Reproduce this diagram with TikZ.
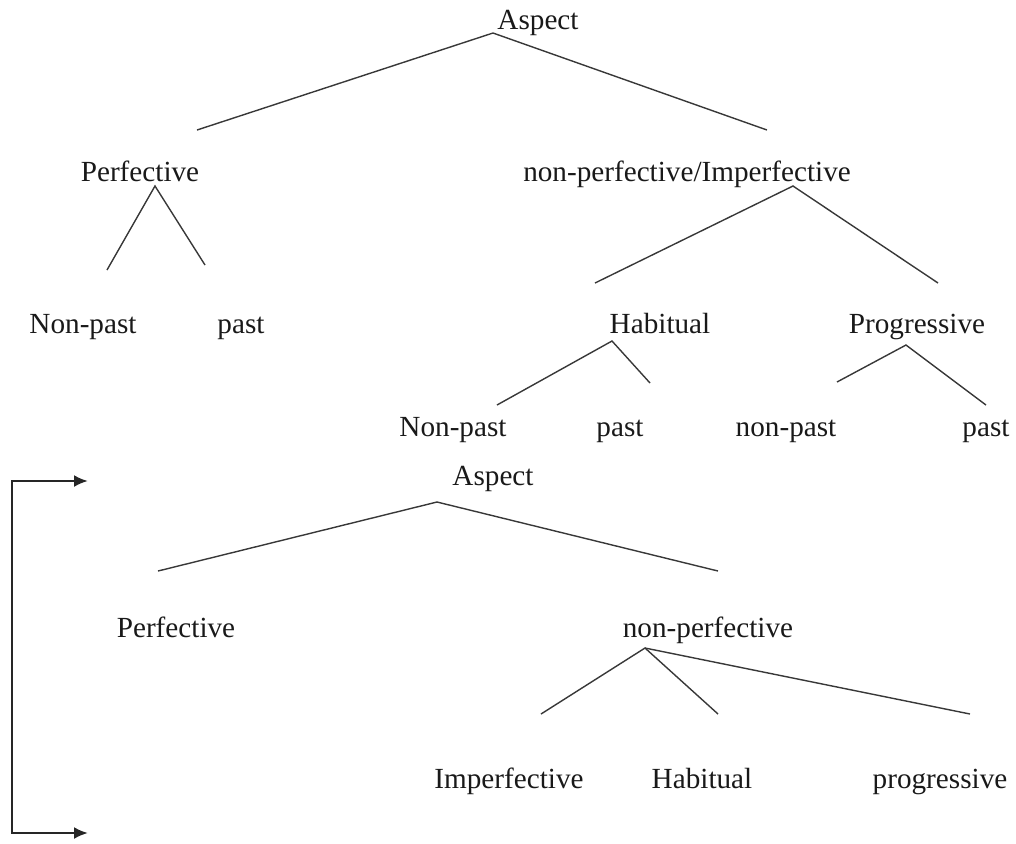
\documentclass[tikz,border=0pt]{standalone}
\usepackage{fontspec}
\setmainfont{Liberation Serif}
\usetikzlibrary{arrows.meta}
\begin{document}
\begin{tikzpicture}[x=0.5pt,y=-0.5pt,
  lbl/.style={inner sep=0pt,anchor=base,font=\fontsize{14.6}{16}\selectfont,text=black!90},
  branch/.style={draw=black!78,line width=0.7pt},
  bracket/.style={draw=black!85,line width=1.2pt,-{Latex[length=7pt,width=6pt]}}]
\useasboundingbox (0,0) rectangle (1016,843);

% ---------- first tree ----------
\node[lbl] (asp1) at (538,29) {Aspect};
\node[lbl] (perf1) at (140,181) {Perfective};
\node[lbl] (nonp1) at (687,181) {non-perfective/Imperfective};
\node[lbl] (np1) at (83,333) {Non-past};
\node[lbl] (p1) at (241,333) {past};
\node[lbl] (hab1) at (660,333) {Habitual};
\node[lbl] (prog1) at (917,333) {Progressive};
\node[lbl] (np2) at (453,436) {Non-past};
\node[lbl] (p2) at (620,436) {past};
\node[lbl] (np3) at (786,436) {non-past};
\node[lbl] (p3) at (986,436) {past};

\coordinate (a1) at (493,33);
\coordinate (a1l) at (197,130);
\coordinate (a1r) at (767,130);
\coordinate (b1) at (155,186);
\coordinate (b1l) at (107,270);
\coordinate (b1r) at (205,265);
\coordinate (c1) at (793,186);
\coordinate (c1l) at (595,283);
\coordinate (c1r) at (938,283);
\coordinate (d1) at (612,341);
\coordinate (d1l) at (497,405);
\coordinate (d1r) at (650,383);
\coordinate (e1) at (906,345);
\coordinate (e1l) at (837,382);
\coordinate (e1r) at (986,405);

\draw[branch] (a1l) -- (a1) -- (a1r);
\draw[branch] (b1l) -- (b1) -- (b1r);
\draw[branch] (c1l) -- (c1) -- (c1r);
\draw[branch] (d1l) -- (d1) -- (d1r);
\draw[branch] (e1l) -- (e1) -- (e1r);

% ---------- second tree ----------
\node[lbl] (asp2) at (493,485) {Aspect};
\node[lbl] (perf2) at (176,637) {Perfective};
\node[lbl] (nonp2) at (708,637) {non-perfective};
\node[lbl] (imp2) at (509,788) {Imperfective};
\node[lbl] (hab2) at (702,788) {Habitual};
\node[lbl] (prog2) at (940,788) {progressive};

\coordinate (a2) at (437,502);
\coordinate (a2l) at (158,571);
\coordinate (a2r) at (718,571);
\coordinate (b2) at (645,648);
\coordinate (b2l) at (541,714);
\coordinate (b2m) at (718,714);
\coordinate (b2r) at (970,714);

\draw[branch] (a2l) -- (a2) -- (a2r);
\draw[branch] (b2l) -- (b2) -- (b2m);
\draw[branch] (b2) -- (b2r);

% ---------- bracket with arrows ----------
\coordinate (k0) at (12,481);
\coordinate (k1) at (12,833);
\coordinate (kt) at (88,481);
\coordinate (kb) at (88,833);
\draw[bracket] (k1) -- (k0) -- (kt);
\draw[bracket] (k0) -- (k1) -- (kb);
\end{tikzpicture}
\end{document}
